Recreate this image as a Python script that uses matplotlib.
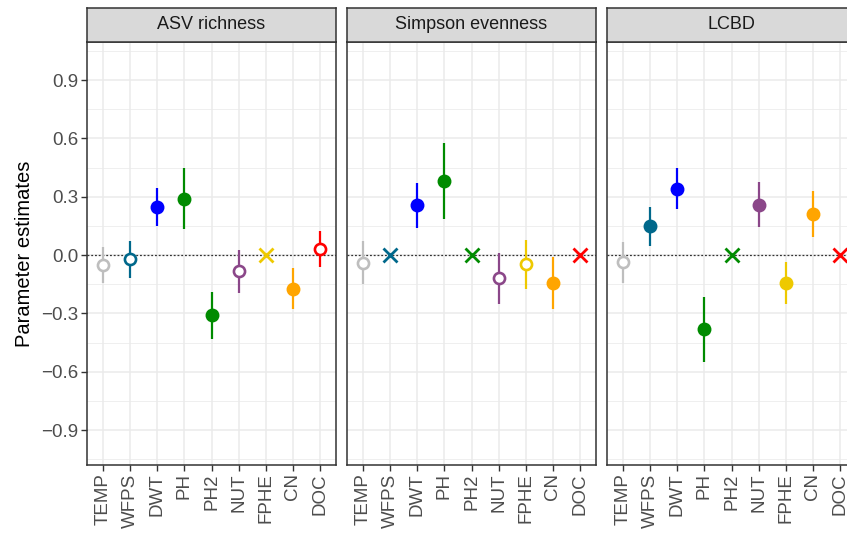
import numpy as np
import matplotlib
matplotlib.use('Agg')
import matplotlib.pyplot as plt

plt.rcParams['font.family'] = ['Liberation Sans', 'DejaVu Sans']

predictors = ['TEMP', 'WFPS', 'DWT', 'PH', 'PH2', 'NUT', 'FPHE', 'CN', 'DOC']
colors = ['#BEBEBE', '#00688B', '#0000FF', '#008B00', '#008B00',
          '#8B4789', '#EEC900', '#FFA500', '#FF0000']
responses = ['ASV richness', 'Simpson evenness', 'LCBD']

# style: 'f' filled, 'o' open, 'x' not selected
asv_est = [-0.05, -0.022, 0.247, 0.288, -0.309, -0.084, 0.0, -0.173, 0.031]
asv_lo = [-0.142, -0.12, 0.149, 0.132, -0.43, -0.194, 0.0, -0.28, -0.06]
asv_hi = [0.043, 0.074, 0.343, 0.446, -0.192, 0.026, 0.0, -0.068, 0.122]
asv_style = ['o', 'o', 'f', 'f', 'f', 'o', 'x', 'f', 'o']

simp_est = [-0.039, 0.0, 0.255, 0.381, 0.0, -0.12, -0.046, -0.146, 0.0]
simp_lo = [-0.151, 0.0, 0.14, 0.184, 0.0, -0.254, -0.173, -0.28, 0.0]
simp_hi = [0.072, 0.0, 0.369, 0.575, 0.0, 0.012, 0.08, -0.01, 0.0]
simp_style = ['o', 'x', 'f', 'f', 'x', 'o', 'o', 'f', 'x']

lcbd_est = [-0.034, 0.147, 0.341, -0.382, 0.0, 0.26, -0.144, 0.211, 0.0]
lcbd_lo = [-0.142, 0.048, 0.235, -0.552, 0.0, 0.146, -0.252, 0.093, 0.0]
lcbd_hi = [0.069, 0.245, 0.448, -0.214, 0.0, 0.374, -0.036, 0.328, 0.0]
lcbd_style = ['o', 'f', 'f', 'f', 'x', 'f', 'f', 'f', 'x']

panels = [(asv_est, asv_lo, asv_hi, asv_style),
          (simp_est, simp_lo, simp_hi, simp_style),
          (lcbd_est, lcbd_lo, lcbd_hi, lcbd_style)]

yticks = [-0.9, -0.6, -0.3, 0.0, 0.3, 0.6, 0.9]
ytick_labels = ['\u22120.9', '\u22120.6', '\u22120.3', '0.0', '0.3', '0.6', '0.9']

W, H = 847, 539
fig = plt.figure(figsize=(W / 100, H / 100), dpi=100)

dark = '#333333'
x = np.arange(1, len(predictors) + 1)

for i, (resp, (est, lo, hi, style)) in enumerate(zip(responses, panels)):
    left = 87 + i * 260
    ax = fig.add_axes([left / W, (H - 465) / H, 249 / W, 423 / H])
    ax.set_xlim(0.4, 9.6)
    ax.set_ylim(-1.08, 1.096)
    ax.set_yticks(yticks)
    ax.set_yticks(np.arange(-1.05, 1.06, 0.3), minor=True)
    ax.set_xticks(x)
    ax.set_xticklabels(predictors, rotation=90, fontsize=13.5, color='#4D4D4D')
    ax.grid(which='major', color='#EBEBEB', lw=1.1)
    ax.grid(which='minor', axis='y', color='#EBEBEB', lw=0.55)
    ax.set_axisbelow(True)
    ax.tick_params(which='major', length=4, width=1, color=dark, pad=2)
    ax.tick_params(which='minor', length=0)
    if i == 0:
        ax.set_yticklabels(ytick_labels, fontsize=13.5, color='#4D4D4D')
        ax.set_ylabel('Parameter estimates', fontsize=14.5, labelpad=5)
    else:
        ax.tick_params(axis='y', length=0, labelleft=False)
    for s in ax.spines.values():
        s.set_color(dark)
        s.set_linewidth(1.1)

    ax.axhline(0, color='#333333', lw=0.9, ls=(0, (1.5, 1.5)), zorder=1)

    for j in range(len(predictors)):
        c = colors[j]
        if style[j] == 'x':
            ax.plot(x[j], est[j], marker='x', ms=9.5, mew=2, color=c,
                    ls='none', zorder=3)
            continue
        ax.vlines(x[j], lo[j], hi[j], color=c, lw=1.6, zorder=2)
        if style[j] == 'f':
            ax.plot(x[j], est[j], marker='o', ms=8.8, mfc=c, mec=c, mew=1.2,
                    ls='none', zorder=3)
        else:
            ax.plot(x[j], est[j], marker='o', ms=8.0, mfc='white', mec=c,
                    mew=1.9, ls='none', zorder=3)

    # strip
    sax = fig.add_axes([left / W, (H - 42) / H, 249 / W, 34.5 / H])
    sax.set_facecolor('#D9D9D9')
    sax.set_xticks([])
    sax.set_yticks([])
    for s in sax.spines.values():
        s.set_color(dark)
        s.set_linewidth(1.1)
    sax.text(0.5, 0.5, resp, ha='center', va='center', fontsize=13,
             color='#1A1A1A', transform=sax.transAxes)

fig.savefig('out.png', dpi=100)
